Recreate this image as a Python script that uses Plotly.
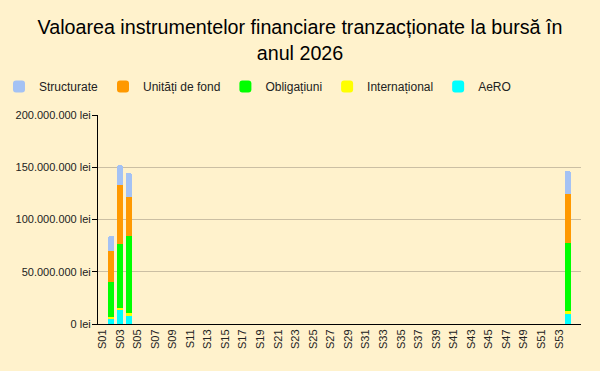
import plotly.graph_objects as go

weeks = [f"S{i:02d}" for i in range(1, 55)]
tick_weeks = [f"S{i:02d}" for i in range(1, 55, 2)]

y_ticks = [0, 50e6, 100e6, 150e6, 200e6]
y_ticktext = ["0 lei", "50.000.000 lei", "100.000.000 lei", "150.000.000 lei", "200.000.000 lei"]

# values (lei) per week, only non-empty weeks listed
active = ["S02", "S03", "S04", "S54"]
aero = [4.8e6, 13.4e6, 8.6e6, 10.5e6]
international = [1.9e6, 1.9e6, 1.9e6, 1.9e6]
obligatiuni = [33.5e6, 61.2e6, 73.7e6, 65.1e6]
unitati = [29.7e6, 56.5e6, 37.3e6, 46.9e6]
structurate = [14.4e6, 19.1e6, 23.0e6, 22.0e6]

series = [
    ("AeRO", aero, "#00ffff"),
    ("Internațional", international, "#ffff00"),
    ("Obligațiuni", obligatiuni, "#00ff00"),
    ("Unități de fond", unitati, "#ff9900"),
    ("Structurate", structurate, "#a4c2f4"),
]

def full(vals):
    d = dict(zip(active, vals))
    return [d.get(w, None) for w in weeks]

fig = go.Figure()
for name, vals, color in series:
    fig.add_trace(go.Bar(x=weeks, y=full(vals), name=name, marker_color=color,
                         marker_line_width=0))

fig.update_layout(
    width=600, height=371,
    barmode="stack", bargap=0.32, barcornerradius=2,
    paper_bgcolor="#fff2cc", plot_bgcolor="#fff2cc",
    font=dict(family="Liberation Sans, Arial, sans-serif", color="#222222"),
    title=dict(text="Valoarea instrumentelor financiare tranzacționate la bursă în<br>anul 2026",
               x=0.5, xanchor="center", y=0.908, yanchor="top",
               font=dict(size=19.7, color="#000000")),
    legend=dict(orientation="h", xref="paper", x=-0.205, xanchor="left",
                yref="paper", y=1.136, yanchor="middle",
                traceorder="reversed", font=dict(size=12, color="#222222"),
                bgcolor="rgba(0,0,0,0)"),
    margin=dict(l=98, r=19, t=115, b=47, autoexpand=False),
    xaxis=dict(type="category", categoryorder="array", categoryarray=weeks,
               range=[-0.5, 54.5],
               tickmode="array", tickvals=tick_weeks, ticktext=tick_weeks,
               tickangle=-90, tickfont=dict(size=11, color="#222222"),
               showline=True, linecolor="#000000", linewidth=1,
               showgrid=False, ticks="", automargin=False),
    yaxis=dict(range=[0, 200e6], tickmode="array", tickvals=y_ticks, ticktext=y_ticktext,
               tickfont=dict(size=11, color="#222222"),
               showgrid=True, gridcolor="#cbbfa3", gridwidth=1,
               showline=True, linecolor="#000000", linewidth=1,
               ticks="outside", ticklen=5, tickcolor="#000000",
               ticklabelstandoff=-1,
               zeroline=False, automargin=False),
)

fig.write_html("out.html", config={"displayModeBar": False},
               post_script="document.body.style.margin='0';document.body.style.background='#fff2cc';")
